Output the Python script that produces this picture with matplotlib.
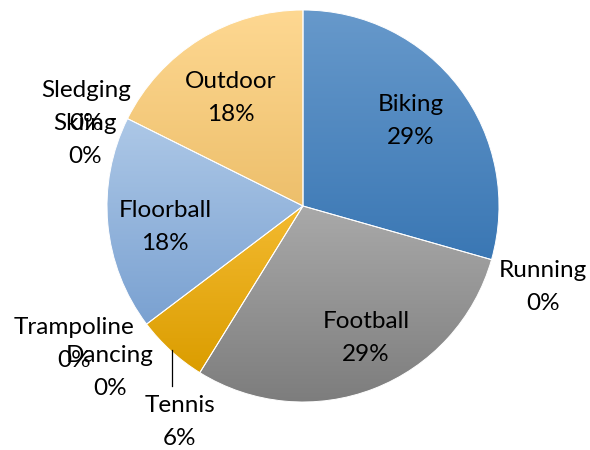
import numpy as np
import matplotlib
matplotlib.use('Agg')
import matplotlib.pyplot as plt
from matplotlib.colors import LinearSegmentedColormap

categories = ['Biking', 'Running', 'Football', 'Tennis', 'Dancing',
              'Trampoline', 'Floorball', 'Skiing', 'Sledging', 'Outdoor']
values = [5, 0, 5, 1, 0, 0, 3, 0, 0, 3]

# gradient colours (top, bottom) per slice
top_colors = ['#6799CB', '#F08A45', '#A9A9A9', '#F3BA30', '#5480C8',
              '#7DB557', '#ADC8E7', '#F4A877', '#C4C4C4', '#FED892']
bottom_colors = ['#3A77B4', '#D86A20', '#7D7D7D', '#DB9D00', '#3762AE',
                 '#5E9838', '#7AA1D1', '#E08F58', '#A0A0A0', '#EDBF6B']

# label positions (pixels from top-left)
label_pos = [(411, 121), (543, 287), (366, 338), (180, 422), (110, 372),
             (74, 344), (165, 227), (85, 140), (86, 107), (231, 98)]

W, H = 590, 450
plt.rcParams['font.family'] = ['Lato', 'DejaVu Sans']

fig = plt.figure(figsize=(W / 100, H / 100), dpi=100)
ax = fig.add_axes([0, 0, 1, 1])
CX, CY, R = 303, H - 206, 196

wedges, _ = ax.pie(values, startangle=90, counterclock=False,
                   center=(CX, CY), radius=R, frame=True,
                   wedgeprops=dict(edgecolor='white', linewidth=0.7))

for w, ct, cb, v in zip(wedges, top_colors, bottom_colors, values):
    w.set_facecolor('none')
    w.set_zorder(3)
    if v == 0:
        w.set_linewidth(0)
        continue
    ext = w.get_path().get_extents()
    cmap = LinearSegmentedColormap.from_list('g', [cb, ct])
    grad = np.linspace(0, 1, 256).reshape(-1, 1)
    im = ax.imshow(grad, cmap=cmap, origin='lower', aspect='auto',
                   extent=[ext.x0, ext.x1, ext.y0, ext.y1], zorder=2,
                   interpolation='bilinear')
    im.set_clip_path(w)

total = sum(values)
for name, v, (px, py) in zip(categories, values, label_pos):
    pct = int(round(v / total * 100))
    ax.text(px, H - py, f"{name}\n{pct}%", ha='center', va='center',
            fontsize=17.5, color='black', linespacing=1.65, zorder=5)

# leader line for Tennis
ax.plot([172, 172], [H - 350, H - 386], color='black', lw=0.9, zorder=4)

ax.set_xlim(0, W)
ax.set_ylim(0, H)
ax.axis('off')
fig.savefig('out.png', dpi=100)
